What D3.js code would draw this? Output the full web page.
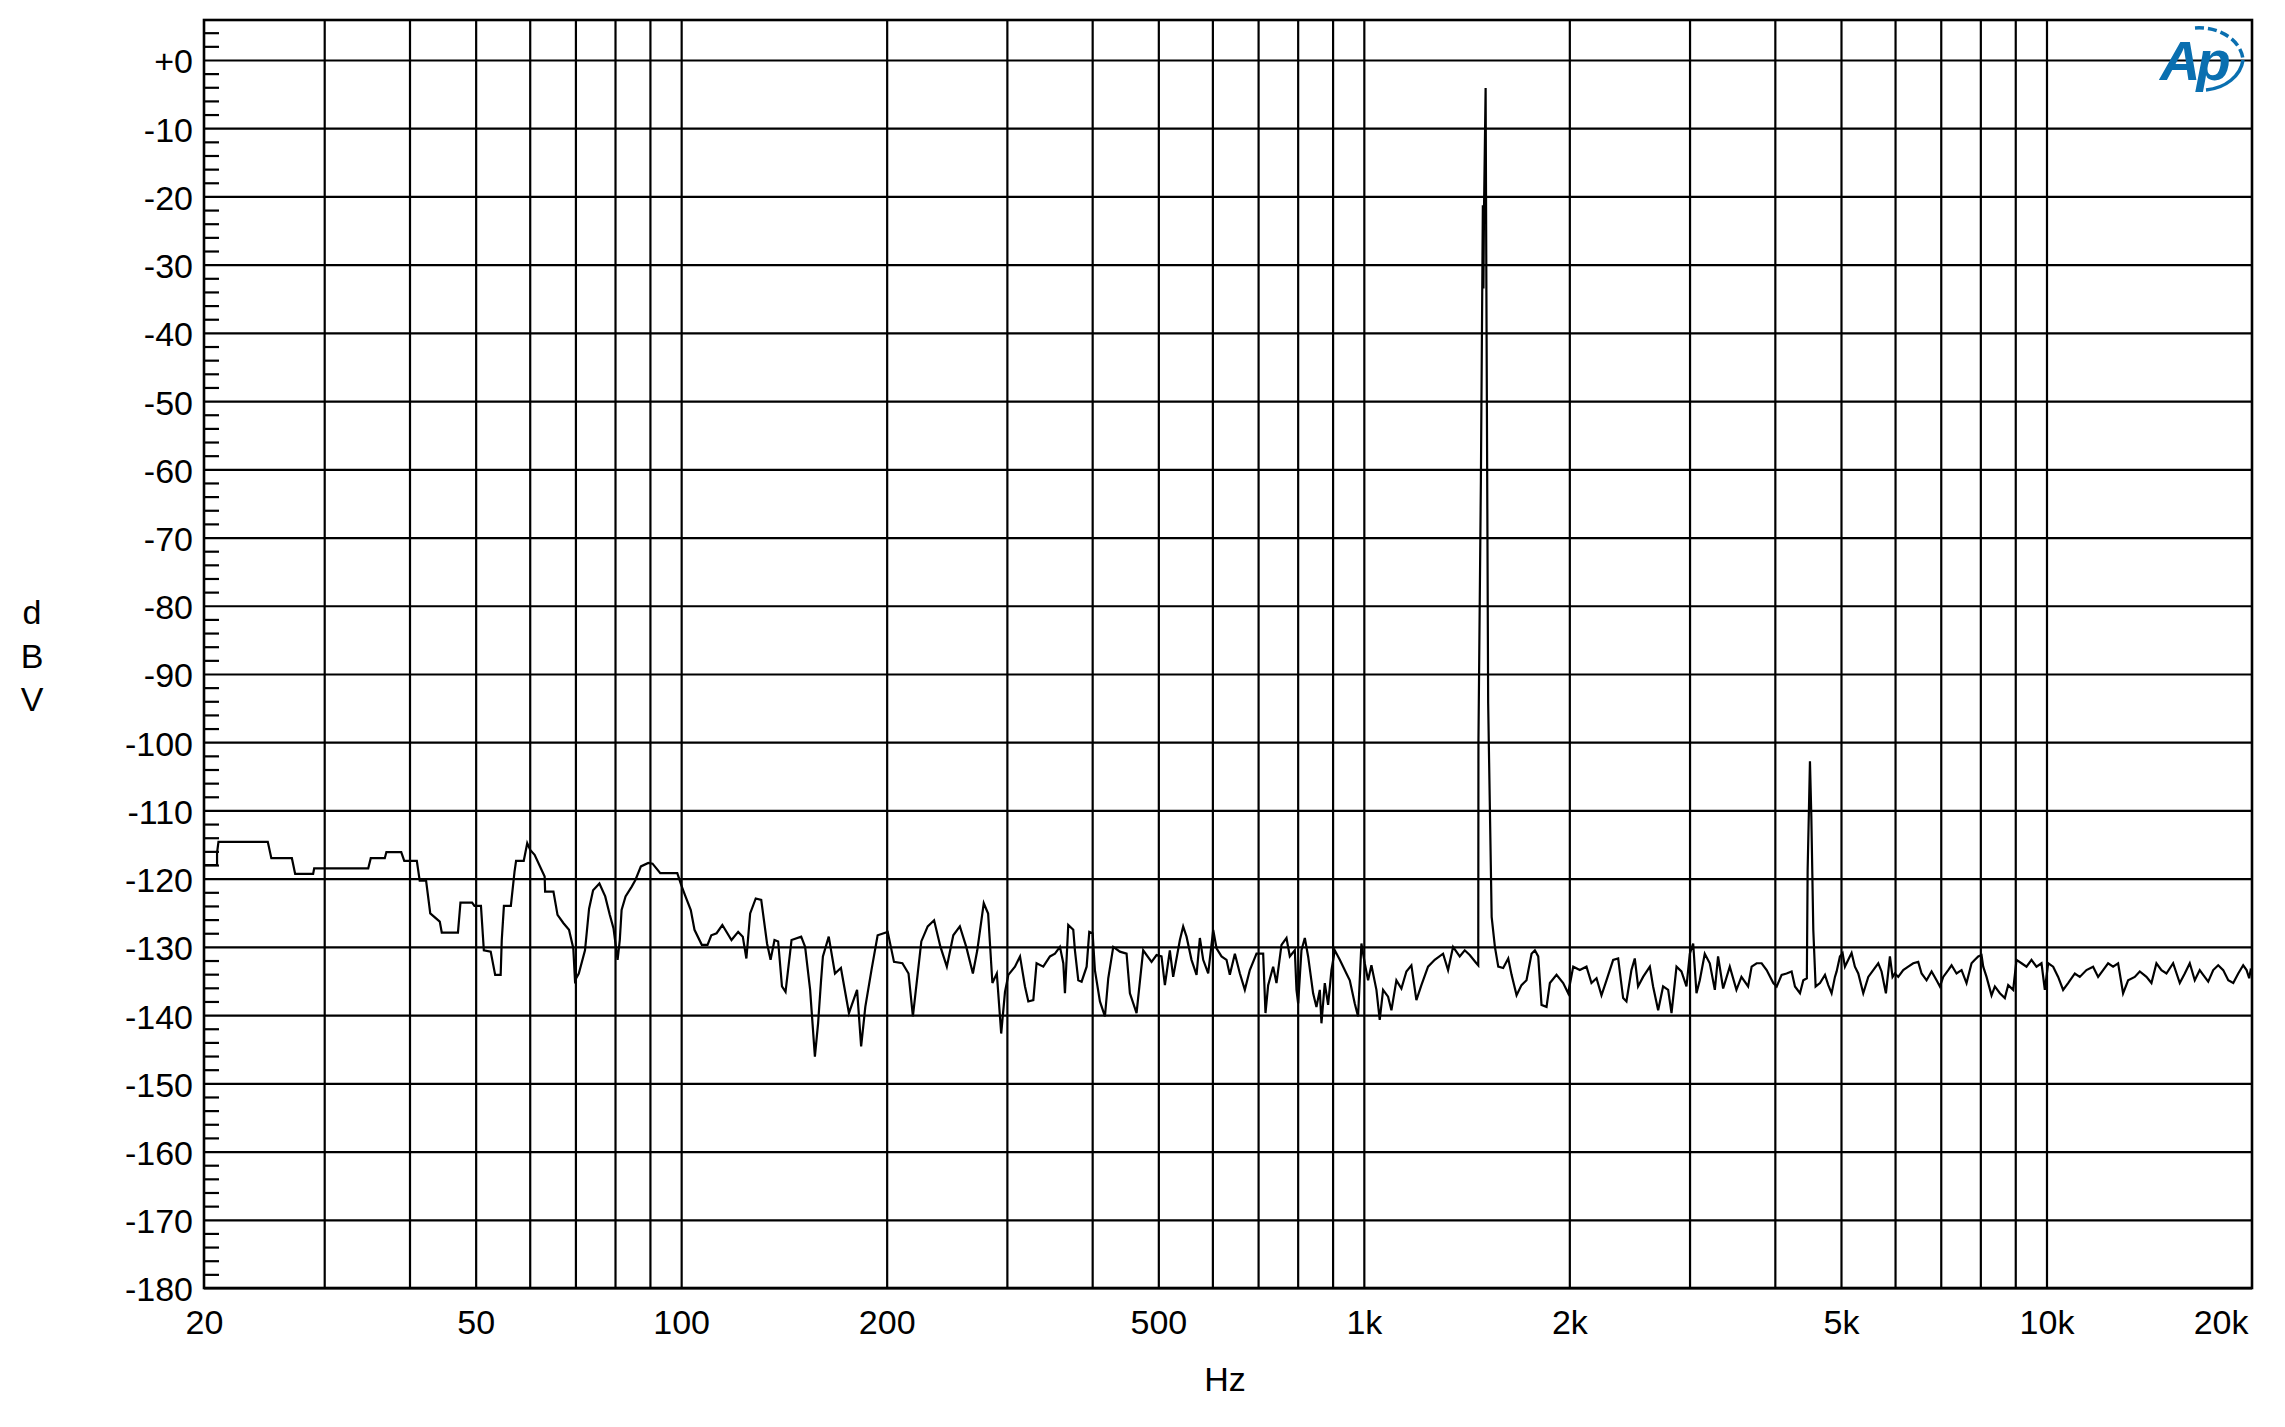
<!DOCTYPE html>
<meta charset="utf-8">
<style>
  body { margin: 0; background: #fff; }
  text { font-family: "Liberation Sans", Arial, sans-serif; }
</style>

<!-- Load d3.js -->
<script src="https://d3js.org/d3.v7.min.js"></script>

<div id="fft_viz"></div>
<script>

// frequency of every point of the trace (Hz)
var freqHz = [
  20, 20.9, 20.9, 21.0, 24.8, 25.1, 26.9, 27.2, 28.9, 29.0,
  34.8, 35.1, 36.8, 37.0, 38.9, 39.3, 41.0, 41.4, 42.3, 42.9,
  44.3, 44.6, 47.1, 47.5, 49.4, 49.8, 50.9, 51.4, 52.6, 53.4,
  54.4, 54.6, 55.0, 56.3, 57.0, 57.3, 58.8, 59.5, 60.1, 61.0,
  63.1, 63.2, 65.0, 65.9, 67.2, 68.5, 69.5, 69.9, 70.8, 72.3,
  73.3, 74.3, 75.9, 77.4, 78.6, 79.6, 80.7, 81.3, 81.8, 82.9,
  84.6, 85.7, 87.3, 89.5, 90.8, 93.2, 98.7, 100.0, 101.3, 103.3,
  104.6, 107.2, 109.3, 110.7, 112.7, 114.9, 118.5, 121.2, 123.1, 124.6,
  126.2, 128.6, 131.0, 133.6, 135.2, 137.0, 138.7, 140.5, 142.2, 145.1,
  149.9, 151.9, 154.5, 157.0, 158.7, 160.3, 161.3, 164.5, 168.0, 171.4,
  176.1, 181.0, 183.5, 186.1, 190.0, 194.0, 200.7, 205.0, 210.9, 215.3,
  218.5, 224.8, 229.7, 234.7, 239.8, 245.0, 250.4, 256.0, 261.6, 267.5,
  271.5, 277.5, 281.6, 285.7, 290.0, 294.3, 298.1, 301.5, 308.3, 313.6,
  318.9, 322.5, 328.0, 331.6, 339.2, 346.9, 352.8, 358.8, 362.9, 364.9,
  369.0, 375.3, 377.4, 381.7, 386.0, 392.6, 396.1, 400.6, 403.7, 410.6,
  417.6, 422.3, 429.5, 439.2, 449.2, 454.3, 464.6, 475.1, 488.7, 497.0,
  505.4, 511.2, 519.8, 525.7, 537.7, 543.7, 549.9, 559.2, 568.8, 575.2,
  581.7, 591.6, 601.7, 608.4, 618.8, 629.3, 636.4, 647.3, 658.3, 669.4,
  680.8, 696.3, 712.1, 717.7, 724.2, 736.5, 744.8, 757.5, 770.4, 779.1,
  792.3, 796.8, 801.3, 810.3, 819.5, 828.7, 842.8, 852.3, 862.0, 866.8,
  876.6, 886.5, 896.5, 906.7, 922.1, 943.0, 953.7, 969.9, 980.8, 991.9,
  1003.1, 1014.5, 1025.9, 1043.4, 1055.1, 1067.1, 1085.2, 1097.5, 1116.1, 1135.1,
  1154.4, 1174.0, 1194.0, 1214.3, 1241.9, 1270.1, 1306.4, 1328.6, 1351.2, 1381.9,
  1405.4, 1429.3, 1461.8, 1471, 1472, 1484, 1494, 1497, 1500, 1508,
  1512, 1521, 1539, 1556, 1573.6, 1600, 1627.6, 1646, 1674, 1702,
  1731, 1760.7, 1780.6, 1800.8, 1821, 1852, 1873, 1915.5, 1959, 1992.4,
  2026.5, 2072, 2119, 2155, 2192, 2229, 2267, 2318.6, 2358, 2398,
  2425, 2466, 2494, 2522, 2565, 2624, 2653, 2698.6, 2744, 2791,
  2823, 2871, 2919, 2969, 3003, 3037, 3071, 3105.5, 3158, 3212,
  3267, 3303, 3360, 3436, 3514, 3574, 3655, 3699, 3762, 3826,
  3891, 3979.5, 4025, 4093, 4162, 4233, 4281, 4354, 4403, 4456,
  4468, 4503, 4524, 4554, 4590, 4658, 4737, 4790, 4844, 4899,
  4927, 4982, 5027, 5067, 5124, 5182, 5240, 5300, 5390, 5482,
  5575, 5670, 5733, 5818, 5897, 5950, 5997, 6065, 6168, 6273,
  6380, 6488, 6562, 6673, 6787, 6902, 6980, 7059, 7179, 7260,
  7383, 7509, 7636, 7766, 7854, 7943, 8032, 8078, 8169, 8308,
  8402, 8545, 8689, 8788, 8937, 9038, 9192, 9348, 9507, 9668,
  9833, 9944, 10056, 10227, 10401, 10577, 10757, 11002, 11188, 11443,
  11702, 11902, 12104, 12310, 12519, 12732, 12948, 13169, 13468, 13697,
  14009, 14247, 14489, 14736, 14987, 15328, 15676, 15943, 16213, 16489,
  16768, 16964, 17254, 17548, 17846, 18150, 18461, 18774, 19093, 19414,
  19638, 19812, 19908, 20000
];

// level of every point (dBV)
var levelDbv = [
  -118.0, -118.0, -116.2, -114.6, -114.6, -117.0, -117.0, -119.3, -119.3, -118.5,
  -118.5, -117.0, -117.0, -116.1, -116.1, -117.4, -117.4, -120.3, -120.3, -125.1,
  -126.3, -127.9, -127.9, -123.5, -123.5, -124.0, -124.0, -130.5, -130.7, -134.1,
  -134.1, -129.0, -124.0, -124.0, -119.0, -117.4, -117.4, -114.8, -115.8, -116.5,
  -119.7, -121.9, -121.9, -125.3, -126.5, -127.5, -130.2, -134.9, -133.9, -130.5,
  -124.4, -121.7, -120.7, -122.6, -125.3, -127.3, -131.9, -129.0, -124.6, -122.6,
  -121.2, -120.2, -118.2, -117.7, -117.8, -119.2, -119.2, -120.9, -122.4, -124.6,
  -127.5, -129.7, -129.7, -128.3, -128.0, -126.8, -129.0, -127.8, -128.5, -131.7,
  -125.1, -122.9, -123.1, -129.5, -131.9, -129.0, -129.2, -135.8, -136.6, -129.0,
  -128.5, -130.0, -136.3, -146.1, -141.2, -134.9, -131.4, -128.5, -133.9, -133.1,
  -139.7, -136.3, -144.6, -138.8, -133.4, -128.3, -127.8, -132.2, -132.4, -133.9,
  -140.2, -129.2, -127.0, -126.1, -130.0, -132.9, -128.3, -127.0, -130.0, -133.9,
  -130.5, -123.6, -125.1, -135.3, -133.9, -142.7, -136.6, -134.1, -132.9, -131.4,
  -135.8, -138.0, -137.8, -132.4, -132.9, -131.4, -131.0, -130.0, -132.4, -136.8,
  -126.8, -127.5, -130.5, -134.9, -135.1, -132.9, -127.8, -128.0, -133.4, -138.0,
  -140.2, -134.6, -130.0, -130.7, -131.0, -136.8, -139.7, -130.5, -132.2, -131.2,
  -131.4, -135.6, -130.5, -134.4, -129.0, -127.0, -128.5, -131.9, -134.1, -128.7,
  -131.9, -133.9, -127.5, -130.2, -131.4, -131.9, -134.1, -131.0, -133.9, -136.3,
  -133.4, -131.0, -131.0, -139.7, -135.6, -132.9, -135.3, -129.7, -128.7, -131.4,
  -130.5, -136.3, -138.3, -130.5, -128.7, -131.4, -136.8, -138.8, -136.3, -141.2,
  -135.3, -138.5, -133.4, -130.5, -131.9, -133.9, -134.9, -138.3, -140.2, -129.5,
  -132.4, -134.9, -132.7, -136.3, -140.7, -136.3, -137.3, -139.3, -134.9, -136.1,
  -133.6, -132.7, -137.8, -135.6, -132.9, -131.9, -131.0, -133.4, -130.0, -131.4,
  -130.5, -131.2, -132.4, -132.7, -99.6, -62.0, -21.3, -33.5, -21.5, -4.1,
  -34.1, -94.3, -125.6, -130.0, -132.9, -133.1, -131.7, -134.1, -137.1, -135.6,
  -134.9, -131.0, -130.5, -131.4, -138.5, -138.8, -135.3, -134.1, -135.3, -136.8,
  -132.9, -133.4, -132.9, -135.3, -134.6, -137.1, -134.9, -131.9, -131.7, -137.5,
  -138.0, -133.4, -131.7, -135.8, -134.4, -132.9, -135.8, -139.3, -135.8, -136.3,
  -139.7, -132.9, -133.6, -135.8, -131.0, -129.5, -136.8, -134.9, -131.0, -132.4,
  -136.3, -131.4, -136.1, -132.9, -136.3, -134.4, -135.8, -132.9, -132.4, -132.4,
  -133.4, -135.3, -135.8, -134.1, -133.9, -133.6, -135.8, -136.8, -134.9, -134.6,
  -118.7, -102.8, -110.9, -127.5, -135.8, -135.3, -134.1, -135.6, -136.8, -134.4,
  -133.6, -131.4, -130.9, -132.9, -131.9, -130.9, -132.9, -133.9, -136.8, -134.4,
  -133.4, -132.4, -133.6, -136.8, -131.4, -134.4, -133.9, -134.4, -133.4, -132.9,
  -132.4, -132.2, -133.9, -134.9, -133.6, -134.9, -135.8, -134.4, -133.4, -132.7,
  -133.9, -133.4, -135.3, -132.4, -131.9, -131.4, -131.2, -132.9, -134.4, -137.1,
  -135.8, -136.8, -137.5, -135.6, -136.3, -131.9, -132.4, -132.9, -131.9, -132.9,
  -132.4, -136.3, -132.4, -132.9, -134.4, -136.3, -135.3, -133.9, -134.4, -133.4,
  -132.9, -134.4, -133.4, -132.4, -132.9, -132.4, -136.8, -134.9, -134.4, -133.6,
  -134.4, -135.3, -132.4, -133.4, -133.9, -132.4, -135.3, -133.9, -132.4, -134.9,
  -133.4, -134.1, -135.1, -133.4, -132.7, -133.4, -134.9, -135.3, -133.9, -132.7,
  -133.4, -134.6, -133.4, -133.6
];

// axis values
var majorDb = d3.range(0, -181, -10);
var minorDb = [4, 2].concat(d3.range(-2, -180, -2).filter(function(d) { return d % 10 !== 0; }));
var gridFreqs = [30, 40, 50, 60, 70, 80, 90, 100, 200, 300, 400, 500, 600, 700, 800, 900,
                 1000, 2000, 3000, 4000, 5000, 6000, 7000, 8000, 9000, 10000];
var labelFreqs = [20, 50, 100, 200, 500, 1000, 2000, 5000, 10000, 20000];
var labelTexts = ["20", "50", "100", "200", "500", "1k", "2k", "5k", "10k", "20k"];

// set the dimensions and margins of the graph
var margin = {top: 20, right: 33, bottom: 139, left: 204},
    width = 2285 - margin.left - margin.right,
    height = 1427 - margin.top - margin.bottom;

var svgRoot = d3.select("#fft_viz")
  .append("svg")
    .attr("width", width + margin.left + margin.right)
    .attr("height", height + margin.top + margin.bottom);

var svg = svgRoot.append("g")
    .attr("transform", "translate(" + margin.left + "," + margin.top + ")");

var x = d3.scaleLog()
  .domain([20, 20000])
  .range([0, width]);

var y = d3.scaleLinear()
  .domain([-180, 5.86])
  .range([height, 0]);

// vertical grid
svg.append("g")
  .attr("class", "grid")
  .attr("transform", "translate(0," + height + ")")
  .call(d3.axisBottom(x).tickValues(gridFreqs).tickSize(-height).tickFormat(""));

// horizontal grid
svg.append("g")
  .attr("class", "grid")
  .call(d3.axisLeft(y).tickValues(majorDb).tickSize(-width).tickFormat(""));

// small ticks inside the left edge
svg.append("g")
  .attr("class", "grid")
  .call(d3.axisLeft(y).tickValues(minorDb).tickSize(-15).tickFormat(""));

svg.selectAll(".grid .domain").remove();
svg.selectAll(".grid line")
  .attr("stroke", "#000")
  .attr("stroke-width", 2.2);

// Y labels
var yAxis = svg.append("g")
  .call(d3.axisLeft(y).tickValues(majorDb).tickSize(0).tickPadding(11)
    .tickFormat(function(d) { return d === 0 ? "+0" : String(d); }));
yAxis.selectAll("text").attr("dy", "0.38em");

// X labels
var xAxis = svg.append("g")
  .attr("transform", "translate(0," + height + ")")
  .call(d3.axisBottom(x).tickValues(labelFreqs).tickSize(0).tickPadding(22)
    .tickFormat(function(d, i) { return labelTexts[i]; }));

xAxis.selectAll(".tick:last-of-type text")
  .attr("text-anchor", "end")
  .attr("x", -4);

[xAxis, yAxis].forEach(function(a) {
  a.select(".domain").remove();
  a.selectAll("text")
    .attr("font-family", "Liberation Sans, Arial, sans-serif")
    .attr("font-size", 34)
    .attr("fill", "#000");
});

// the trace
var trace = freqHz.map(function(f, i) { return {f: f, v: levelDbv[i]}; });

svg.append("clipPath")
  .attr("id", "plotclip")
  .append("rect")
    .attr("width", width)
    .attr("height", height);

svg.append("path")
  .datum(trace)
  .attr("clip-path", "url(#plotclip)")
  .attr("fill", "none")
  .attr("stroke", "#000")
  .attr("stroke-width", 2.2)
  .attr("stroke-linejoin", "miter")
  .attr("d", d3.line()
    .x(function(d) { return x(d.f); })
    .y(function(d) { return y(d.v); }));

// frame
svg.append("rect")
  .attr("width", width)
  .attr("height", height)
  .attr("fill", "none")
  .attr("stroke", "#000")
  .attr("stroke-width", 2.6);

// axis titles
svgRoot.append("text")
  .attr("x", margin.left + width / 2 - 3)
  .attr("y", 1391)
  .attr("text-anchor", "middle")
  .attr("font-size", 34)
  .text("Hz");

svgRoot.selectAll(".ylet")
  .data(["d", "B", "V"])
  .enter()
  .append("text")
    .attr("x", 32)
    .attr("y", function(d, i) { return 624 + i * 43.5; })
    .attr("text-anchor", "middle")
    .attr("font-size", 34)
    .text(function(d) { return d; });

// Ap logo, top right corner
var logo = svgRoot.append("g").attr("fill", "#0a6fb0").attr("stroke", "#0a6fb0");
logo.append("text")
  .attr("x", 2160)
  .attr("y", 80)
  .attr("font-size", 56)
  .attr("font-style", "italic")
  .attr("font-weight", "bold")
  .attr("stroke", "none")
  .attr("letter-spacing", -4)
  .text("Ap");
logo.append("path")
  .attr("fill", "none")
  .attr("stroke-width", 3.5)
  .attr("stroke-dasharray", "9,4")
  .attr("d", "M2195,28 A44,34 0 0 1 2243,60");
logo.append("path")
  .attr("fill", "none")
  .attr("stroke-width", 3.5)
  .attr("d", "M2243,60 A42,34 0 0 1 2206,90");

</script>
